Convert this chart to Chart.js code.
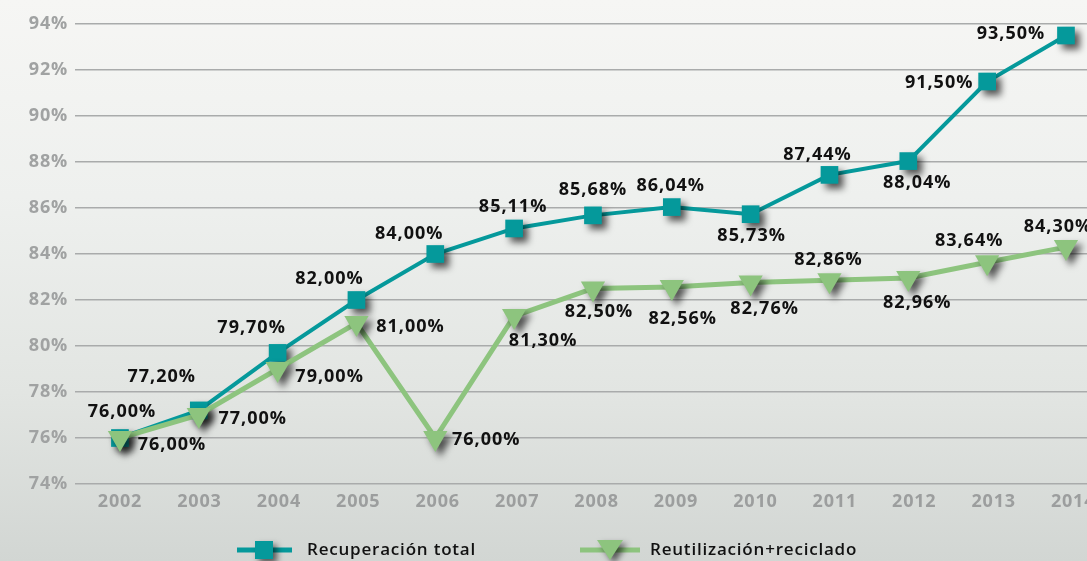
<!DOCTYPE html>
<html>
<head>
<meta charset="utf-8">
<script src="https://cdn.jsdelivr.net/npm/chart.js@4.4.0/dist/chart.umd.min.js"></script>
<style>
html, body { margin: 0; padding: 0; width: 1087px; height: 561px; overflow: hidden; }
body { background: linear-gradient(180deg, #f6f6f4 0%, #eef0ee 35%, #e2e5e2 70%, #d2d6d3 100%); }
#wrap { position: absolute; left: 0; top: 0; width: 1120px; height: 561px; }
</style>
</head>
<body>
<div id="wrap"><canvas id="lineChart"></canvas></div>
<script>
// data
var years = [2002, 2003, 2004, 2005, 2006, 2007, 2008, 2009, 2010, 2011, 2012, 2013, 2014];
var recuperacion = [76.00, 77.20, 79.70, 82.00, 84.00, 85.11, 85.68, 86.04, 85.73, 87.44, 88.04, 91.50, 93.50];
var reutilizacion = [76.00, 77.00, 79.00, 81.00, 76.00, 81.30, 82.50, 82.56, 82.76, 82.86, 82.96, 83.64, 84.30];
var yMin = 74, yMax = 94, yStep = 2;
var seriesNames = ["Recuperación total", "Reutilización+reciclado"];

// where each value label sits relative to its point (dx, dy)
var recLabelPos = [[2,-26],[-37,-34],[-26,-25],[-27,-21],[-26,-20],[-1,-22],[0,-25],[-1,-21],[1,22],[-12,-20],[9,22],[-48,1],[-55,-2]];
var reuLabelPos = [[52,7],[54,4],[52,8],[54,4],[51,2],[29,25],[6,23],[11,32],[14,26],[-1,-20],[9,25],[-18,-21],[-8,-20]];

var teal = '#05999b';
var green = '#8dc47e';
var FONT = "'Open Sans', 'DejaVu Sans', sans-serif";

function pts(vals) {
  return years.map(function (y, i) { return { x: y, y: vals[i] }; });
}
function fmt(v) {
  return v.toFixed(2).replace('.', ',') + '%';
}

// wider letter spacing for all text, like the original
var spacingPlugin = {
  id: 'spacing',
  beforeDraw: function (chart) { chart.ctx.letterSpacing = '0.8px'; }
};

// drop shadow only for the marker datasets
var shadowPlugin = {
  id: 'markerShadow',
  beforeDatasetDraw: function (chart, args) {
    var ds = chart.data.datasets[args.index];
    if (ds.markerShadow) {
      var ctx = chart.ctx;
      ctx.save();
      ctx.shadowColor = 'rgba(0,0,0,0.65)';
      ctx.shadowBlur = 7;
      ctx.shadowOffsetX = 5;
      ctx.shadowOffsetY = 5;
    }
  },
  afterDatasetDraw: function (chart, args) {
    var ds = chart.data.datasets[args.index];
    if (ds.markerShadow) chart.ctx.restore();
  }
};

var labelPlugin = {
  id: 'valueLabels',
  afterDatasetsDraw: function (chart) {
    var ctx = chart.ctx;
    ctx.save();
    ctx.font = 'bold 18px ' + FONT;
    ctx.letterSpacing = '1px';
    ctx.fillStyle = '#111';
    ctx.textAlign = 'center';
    ctx.textBaseline = 'middle';
    var sets = [[1, recuperacion, recLabelPos], [3, reutilizacion, reuLabelPos]];
    sets.forEach(function (s) {
      var meta = chart.getDatasetMeta(s[0]);
      meta.data.forEach(function (p, i) {
        ctx.fillText(fmt(s[1][i]), p.x + s[2][i][0], p.y + s[2][i][1]);
      });
    });
    ctx.restore();
  }
};

var legendPlugin = {
  id: 'bottomLegend',
  afterDraw: function (chart) {
    var ctx = chart.ctx;
    var y = 550;
    ctx.save();
    // teal item
    ctx.strokeStyle = teal; ctx.lineWidth = 5;
    ctx.beginPath(); ctx.moveTo(237, y); ctx.lineTo(292, y); ctx.stroke();
    ctx.shadowColor = 'rgba(0,0,0,0.6)'; ctx.shadowBlur = 6; ctx.shadowOffsetX = 4; ctx.shadowOffsetY = 4;
    ctx.fillStyle = teal;
    ctx.fillRect(255, y - 9, 18, 18);
    // green item
    ctx.shadowColor = 'transparent';
    ctx.strokeStyle = green;
    ctx.beginPath(); ctx.moveTo(580, y); ctx.lineTo(640, y); ctx.stroke();
    ctx.shadowColor = 'rgba(0,0,0,0.6)';
    ctx.fillStyle = green;
    ctx.beginPath(); ctx.moveTo(597, y - 10); ctx.lineTo(623, y - 10); ctx.lineTo(610, y + 10); ctx.closePath(); ctx.fill();
    ctx.shadowColor = 'transparent';
    ctx.fillStyle = '#111';
    ctx.font = '600 17px ' + FONT;
    ctx.letterSpacing = '0.8px';
    ctx.textBaseline = 'middle';
    ctx.fillText(seriesNames[0], 307, y);
    ctx.fillText(seriesNames[1], 650, y);
    ctx.restore();
  }
};

var tickFont = { family: FONT, size: 18, weight: 'bold' };

var ctxL = document.getElementById('lineChart').getContext('2d');
var myLineChart = new Chart(ctxL, {
  type: 'line',
  data: {
    datasets: [
      { label: seriesNames[0], data: pts(recuperacion), borderColor: teal, borderWidth: 4, pointRadius: 0, order: 4 },
      { label: seriesNames[0], data: pts(recuperacion), showLine: false, pointStyle: 'rect', pointRadius: 12.5,
        backgroundColor: teal, borderColor: teal, borderWidth: 0, markerShadow: true, order: 3 },
      { label: seriesNames[1], data: pts(reutilizacion), borderColor: green, borderWidth: 5, pointRadius: 0, order: 2 },
      { label: seriesNames[1], data: pts(reutilizacion), showLine: false, pointStyle: 'triangle', pointRotation: 180,
        pointRadius: 14, backgroundColor: green, borderColor: green, borderWidth: 0, markerShadow: true, order: 1 }
    ]
  },
  options: {
    responsive: true,
    maintainAspectRatio: false,
    animation: false,
    layout: { padding: { top: 24, right: 15, bottom: 47, left: 0 } },
    plugins: { legend: { display: false }, tooltip: { enabled: false } },
    scales: {
      x: {
        type: 'linear', min: 2001.43, max: 2014.495,
        display: false
      },
      // year labels sit on a slightly wider spacing than the points in the original
      xLabels: {
        type: 'linear', position: 'bottom', axis: 'x', min: 2001.4334, max: 2014.402,
        grid: { display: false, drawTicks: false },
        border: { display: false },
        afterFit: function (s) { s.height = 30; },
        afterBuildTicks: function (s) { s.ticks = years.map(function (y) { return { value: y }; }); },
        ticks: { padding: 7, color: '#9c9e9e', font: tickFont,
          callback: function (v) { return String(v); } }
      },
      y: {
        min: yMin, max: yMax,
        grid: { color: '#a9abab', lineWidth: 1.5, drawTicks: false },
        border: { display: false },
        afterFit: function (s) { s.width = 75; },
        ticks: { stepSize: yStep, padding: 7, color: '#a0a2a2', font: tickFont,
          callback: function (v) { return v + '%'; } }
      }
    }
  },
  plugins: [spacingPlugin, shadowPlugin, labelPlugin, legendPlugin]
});
</script>
</body>
</html>
